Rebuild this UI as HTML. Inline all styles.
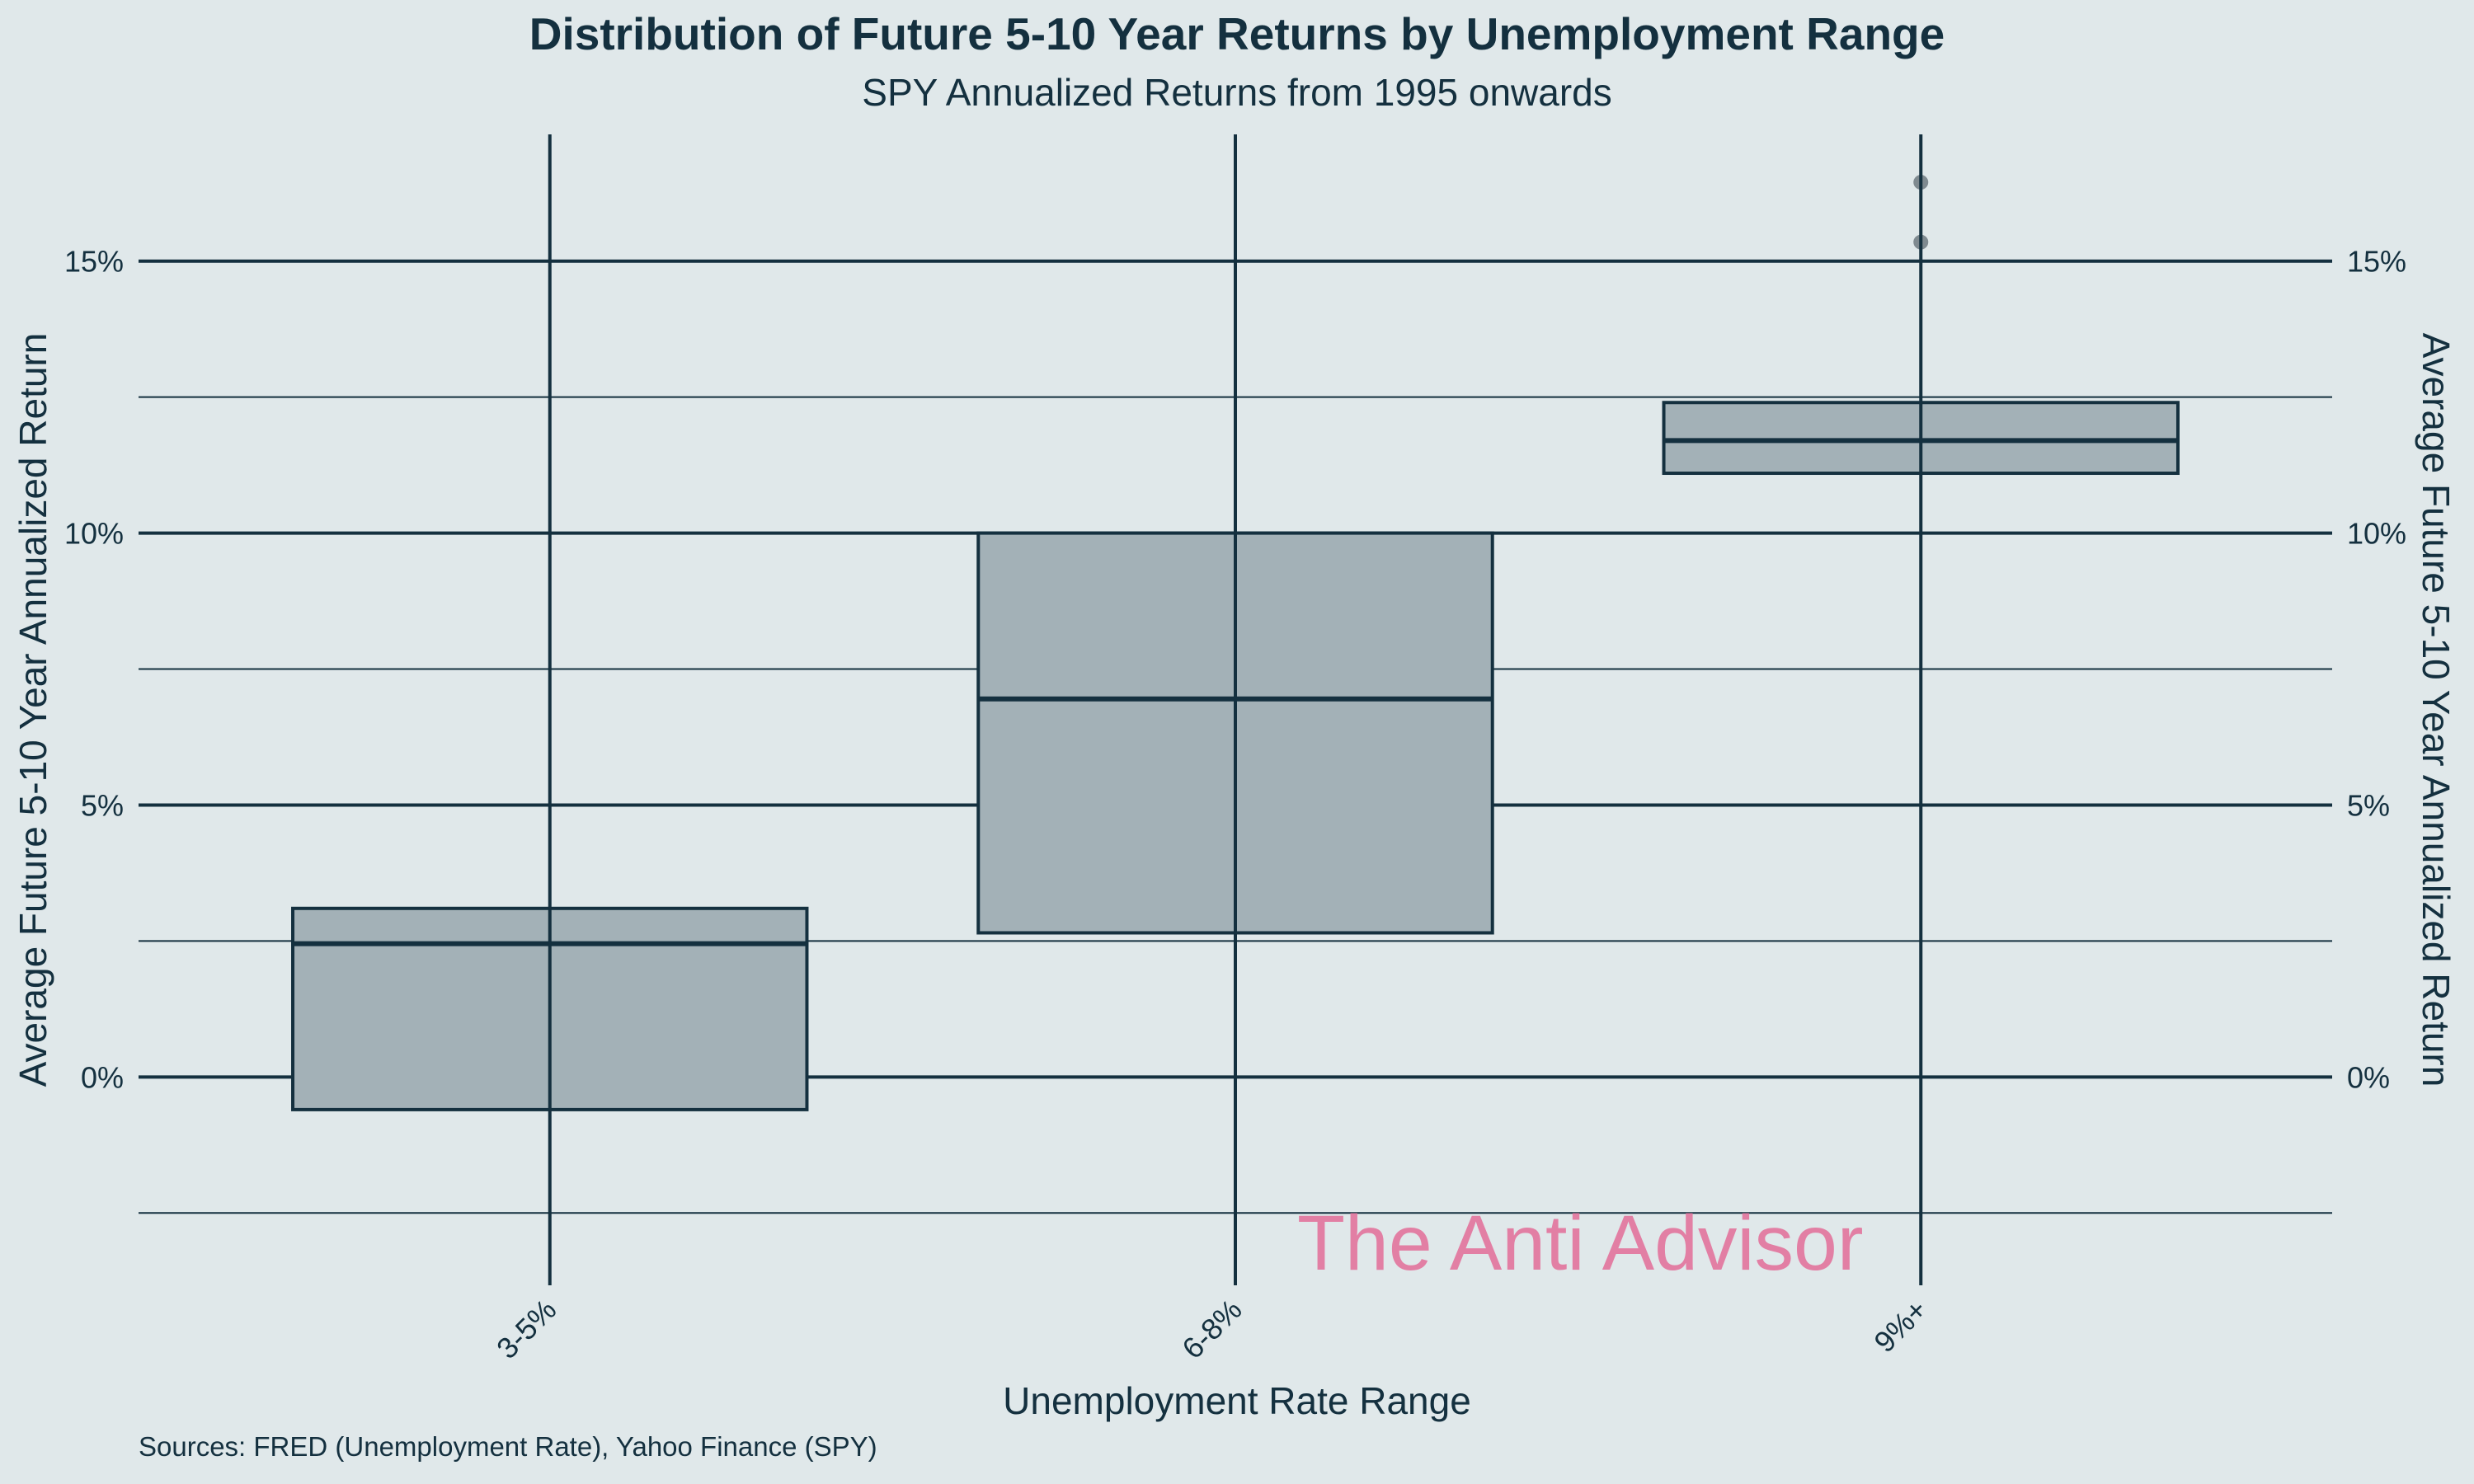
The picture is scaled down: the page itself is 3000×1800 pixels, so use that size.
<!DOCTYPE html>
<html><head><meta charset="utf-8"><style>
body{margin:0;background:#e0e8ea;}
svg{display:block;font-family:"Liberation Sans",Arial,sans-serif;}
</style></head><body>
<svg id="chart" width="3000" height="1800" viewBox="0 0 3000 1800">
<rect width="3000" height="1800" fill="#e0e8ea"/>
<text x="1500" y="60" text-anchor="middle" font-size="55" font-weight="bold" fill="#14303f">Distribution of Future 5-10 Year Returns by Unemployment Range</text>
<text x="1500" y="128" text-anchor="middle" font-size="46" fill="#14303f">SPY Annualized Returns from 1995 onwards</text>
<g id="grid"></g><g id="boxes"></g><g id="ticks"></g>
<text transform="translate(56,861) rotate(-90)" text-anchor="middle" font-size="46" fill="#14303f">Average Future 5-10 Year Annualized Return</text>
<text transform="translate(2938,861) rotate(90)" text-anchor="middle" font-size="46" fill="#14303f">Average Future 5-10 Year Annualized Return</text>
<text x="1500" y="1715" text-anchor="middle" font-size="46" fill="#14303f">Unemployment Rate Range</text>
<text x="168" y="1766" font-size="33" fill="#14303f">Sources: FRED (Unemployment Rate), Yahoo Finance (SPY)</text>
<text x="1573" y="1540" font-size="95" fill="#e27fa4">The Anti Advisor</text>
</svg>
<script>
const categories=["3-5%","6-8%","9%+"];
const q1=[-0.6,2.65,11.1];
const medians=[2.45,6.95,11.7];
const q3=[3.1,10.0,12.4];
const whiskLo=[-2.6,1.0,11.1];
const whiskHi=[5.8,14.5,14.0];
const outliers=[[],[],[16.45,15.35]];
const yTicks=[0,5,10,15];
const ns="http://www.w3.org/2000/svg";
const X0=168,X1=2828,Y0=163,Y1=1559,ymin=-3.83,ymax=17.33;
const xs=i=>X0+(i+0.6)/3.2*(X1-X0);
const ys=v=>Y1-(v-ymin)/(ymax-ymin)*(Y1-Y0);
const C="#14303f";
function mk(t,a,p){const e=document.createElementNS(ns,t);for(const k in a)e.setAttribute(k,a[k]);document.getElementById(p).appendChild(e);return e;}
for(let v=-2.5;v<=17.5;v+=2.5){if(v<ymin||v>ymax)continue;const major=Math.abs(v%5)<1e-9;
const l=mk("line",{x1:X0,x2:X1,y1:ys(v),y2:ys(v),stroke:C,"stroke-width":major?4:2},"grid");

}
const bw=(X1-X0)/3.2*0.75;
categories.forEach((c,i)=>{const x=xs(i);
const w=mk("line",{x1:x,x2:x,y1:ys(whiskLo[i]),y2:ys(whiskHi[i]),stroke:C,"stroke-width":3},"boxes");


const b=mk("rect",{x:x-bw/2,y:ys(q3[i]),width:bw,height:ys(q1[i])-ys(q3[i]),fill:"#a3b1b7",stroke:C,"stroke-width":4},"boxes");


const m=mk("line",{x1:x-bw/2,x2:x+bw/2,y1:ys(medians[i]),y2:ys(medians[i]),stroke:C,"stroke-width":6},"boxes");


outliers[i].forEach(o=>{const d=mk("circle",{cx:x,cy:ys(o),r:9,fill:"#7f8a90"},"boxes");

});
const g=mk("line",{x1:x,x2:x,y1:Y0,y2:Y1,stroke:C,"stroke-width":4},"boxes");


const t=mk("text",{transform:`translate(${x+10},${Y1+32}) rotate(-45)`,"text-anchor":"end","font-size":36,fill:C},"ticks");
t.textContent=c;

});
yTicks.forEach(v=>{const y=ys(v)+13;
const a=mk("text",{x:150,y:y,"text-anchor":"end","font-size":36,fill:C},"ticks");a.textContent=v+"%";


const b=mk("text",{x:2846,y:y,"font-size":36,fill:C},"ticks");b.textContent=v+"%";

});
</script>
</body></html>
